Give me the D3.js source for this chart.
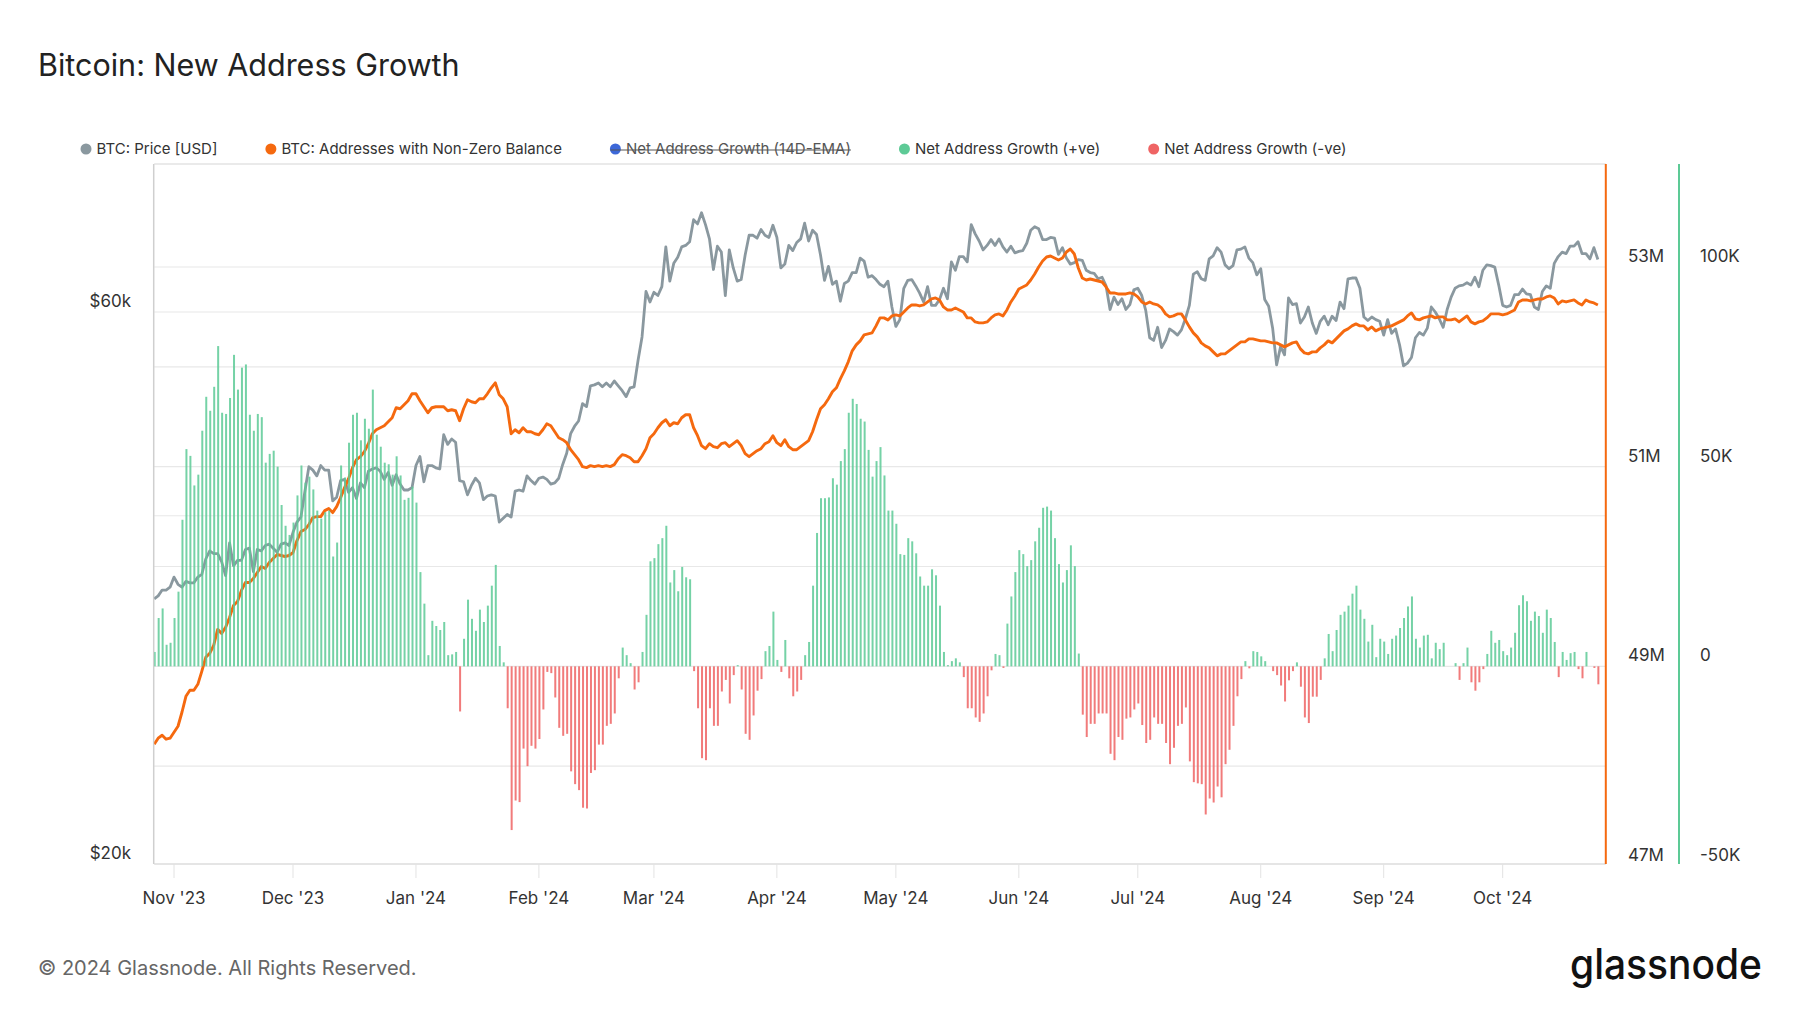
<!DOCTYPE html>
<html><head><meta charset="utf-8">
<script src="https://cdn.jsdelivr.net/npm/d3@7"></script>
<style>
body{margin:0;background:#fff;}
svg{display:block;font-family:Inter,"Noto Sans",sans-serif;}
</style></head>
<body><svg id="c" width="1800" height="1013"></svg>
<script>
// ---------- DATA ----------
const startDate = "2023-10-27"; // one value per day from this date
const endDate = "2024-10-27";

// BTC price, thousands of USD
const priceK = [
 33.9,34.1,34.5,34.5,34.7,
 35.4,34.9,34.7,35.1,35.0,35.0,35.4,35.6,36.7,37.3,37.1,37.1,36.5,35.5,37.9,36.2,36.6,36.6,37.4,37.5,35.8,37.4,37.3,37.7,37.8,37.5,37.2,37.8,37.9,37.7,
 38.7,39.5,39.9,42.0,44.1,43.8,43.3,44.2,43.8,43.8,41.2,41.5,42.9,43.0,41.9,42.3,41.4,42.7,42.3,43.7,43.9,44.0,43.7,43.0,43.6,42.5,43.4,42.6,42.1,42.1,42.3,
 44.2,45.0,42.8,44.2,44.2,44.0,43.9,47.0,46.1,46.6,46.3,42.9,42.8,41.7,42.5,43.1,42.7,41.3,41.6,41.7,41.6,39.5,39.8,40.1,39.9,42.0,42.1,42.0,43.3,42.9,42.6,
 43.1,43.2,43.0,42.6,42.7,43.1,44.3,45.3,47.1,47.8,48.3,50.0,49.7,51.8,51.9,52.1,51.7,52.1,51.7,52.3,51.8,51.3,50.7,51.6,51.7,54.5,57.1,62.5,61.2,
 62.4,62.0,63.1,68.3,63.8,66.1,66.9,68.3,68.5,69.0,72.1,71.5,73.1,71.4,69.4,65.3,68.4,67.6,62.0,67.9,65.5,63.8,64.0,67.2,69.9,69.9,69.5,70.7,69.9,69.6,71.3,
 69.6,65.5,66.0,68.5,67.8,68.9,69.4,71.6,69.1,70.6,70.0,67.2,63.9,65.7,63.4,63.8,61.3,63.5,63.8,64.9,64.9,66.8,66.4,64.3,64.5,64.0,63.4,63.1,63.8,60.6,
 58.3,59.1,62.9,63.9,64.0,63.2,62.3,61.2,63.1,60.8,60.8,61.5,62.9,61.6,66.3,65.2,67.0,67.0,66.3,71.4,70.1,69.1,67.9,68.5,69.3,68.5,69.4,68.3,67.6,68.4,67.5,
 67.7,67.8,68.8,70.6,71.1,70.8,69.3,69.3,69.6,69.5,67.3,68.2,66.8,66.0,66.2,66.6,66.5,65.2,64.9,64.8,64.1,64.3,63.2,60.3,61.8,60.9,61.6,60.3,60.9,62.7,
 62.9,62.0,60.2,57.0,56.7,58.2,55.9,56.7,58.0,57.7,57.3,57.9,59.2,60.8,64.7,65.0,64.1,63.9,66.7,67.1,68.2,67.6,65.9,65.4,65.8,67.9,68.0,68.3,66.8,66.2,64.6,
 65.4,61.5,60.7,58.1,54.0,56.0,55.1,61.7,60.9,61.0,58.7,59.4,60.6,58.7,57.5,58.9,59.5,58.5,59.5,59.0,61.2,60.4,64.1,64.2,64.2,62.9,59.4,59.0,59.4,59.1,58.9,
 57.3,59.1,57.5,58.0,56.2,53.9,54.2,54.8,57.0,57.6,57.3,58.1,60.6,60.0,59.2,58.2,60.3,61.8,62.9,63.2,63.3,63.6,63.3,64.3,63.1,65.2,65.9,65.8,65.6,63.3,
 60.8,60.6,60.8,62.1,62.1,62.8,62.2,62.1,60.6,60.3,62.5,63.2,62.9,66.1,67.0,67.6,67.4,68.4,68.4,69.0,67.4,67.4,66.7,68.2,66.6
];

// Addresses with non-zero balance, millions
const addrM = [
 48.22,48.28,48.31,48.27,48.28,48.34,48.40,48.54,48.70,48.76,
 48.76,48.82,48.95,49.09,49.13,49.21,49.37,49.33,49.39,49.49,
 49.61,49.65,49.76,49.84,49.84,49.88,49.94,50.00,49.98,50.04,
 50.08,50.12,50.11,50.10,50.11,50.14,50.26,50.35,50.37,50.42,
 50.49,50.50,50.50,50.56,50.58,50.54,50.60,50.69,50.79,50.88,
 50.99,51.07,51.10,51.15,51.23,51.33,51.37,51.39,51.41,51.45,
 51.49,51.59,51.58,51.62,51.66,51.73,51.73,51.66,51.60,51.54,
 51.59,51.60,51.60,51.60,51.56,51.57,51.56,51.46,51.58,51.67,
 51.65,51.64,51.68,51.68,51.73,51.79,51.84,51.72,51.68,51.60,
 51.33,51.37,51.34,51.39,51.35,51.35,51.33,51.32,51.37,51.43,
 51.41,51.35,51.29,51.27,51.24,51.17,51.12,51.07,51.00,50.99,
 51.01,51.00,51.01,51.00,51.01,51.00,51.02,51.08,51.12,51.11,
 51.09,51.05,51.05,51.11,51.18,51.29,51.33,51.39,51.44,51.47,
 51.41,51.44,51.43,51.49,51.52,51.52,51.39,51.31,51.21,51.18,
 51.23,51.20,51.19,51.23,51.24,51.20,51.23,51.26,51.21,51.13,
 51.10,51.13,51.16,51.18,51.23,51.25,51.31,51.24,51.21,51.27,
 51.20,51.17,51.17,51.20,51.23,51.26,51.35,51.47,51.58,51.62,
 51.68,51.75,51.79,51.88,51.96,52.05,52.16,52.22,52.26,52.32,
 52.33,52.34,52.41,52.49,52.49,52.47,52.51,52.52,52.51,52.55,
 52.59,52.62,52.62,52.61,52.62,52.65,52.68,52.69,52.67,52.60,
 52.57,52.57,52.59,52.57,52.55,52.49,52.49,52.45,52.44,52.44,
 52.45,52.49,52.52,52.53,52.51,52.57,52.65,52.71,52.78,52.80,
 52.82,52.87,52.93,53.00,53.06,53.10,53.11,53.09,53.07,53.09,
 53.15,53.18,53.13,52.99,52.89,52.87,52.88,52.87,52.86,52.85,
 52.80,52.74,52.74,52.73,52.73,52.73,52.74,52.73,52.70,52.65,
 52.63,52.65,52.63,52.62,52.59,52.53,52.50,52.51,52.53,52.53,
 52.47,52.40,52.34,52.30,52.24,52.21,52.19,52.15,52.11,52.13,
 52.13,52.16,52.19,52.22,52.25,52.25,52.28,52.28,52.27,52.26,
 52.26,52.25,52.24,52.24,52.22,52.20,52.22,52.24,52.25,52.18,
 52.14,52.13,52.15,52.15,52.19,52.22,52.26,52.24,52.28,52.32,
 52.36,52.38,52.41,52.43,52.41,52.41,52.37,52.40,52.36,52.38,
 52.39,52.40,52.41,52.43,52.45,52.47,52.51,52.54,52.48,52.47,
 52.49,52.50,52.51,52.49,52.50,52.50,52.47,52.47,52.48,52.45,
 52.48,52.51,52.45,52.43,52.45,52.46,52.49,52.53,52.53,52.53,
 52.52,52.53,52.55,52.57,52.65,52.67,52.67,52.66,52.67,52.68,
 52.68,52.70,52.71,52.69,52.63,52.66,52.65,52.66,52.67,52.64,
 52.62,52.67,52.65,52.64,52.62
];

// Net address growth, thousands (positive = green, negative = red)
const netK = [
 3.6,12.1,14.5,5.4,5.9,12.1,18.7,36.7,54.4,52.7,
 45.3,48,59,67.5,64,70,80.2,63.5,63.2,67.2,
 78,69.3,74.8,75.6,63,59,63.2,62.4,51,53.2,
 54,50,40.4,35.2,32.9,36,42.8,50.3,46,47.5,
 44.3,39,37,38.6,39,27.5,31,50.3,47.3,56,
 63,63.5,56.6,62,59.5,69.3,58,55,51,50.6,
 48,52.6,47.8,41.7,42.2,45,41,23.6,15.7,2.8,
 11.4,10.1,9.1,11.1,2.8,3.0,3.6,-11.3,6.9,16.7,
 11.9,8.9,14.2,11.1,15.2,20.2,25.4,5.1,1.0,-10.5,
 -41,-33.6,-34,-20.6,-25,-19.9,-20.6,-18.2,-10.8,-1.4,
 -1.7,-7.8,-15.4,-17.4,-16.9,-26.3,-29.5,-31,-35.4,-35.6,
 -26.7,-26,-19.6,-19.6,-14.9,-14.4,-11.8,-3,4.7,2.8,
 0.8,-5.8,-4,3.6,12.9,26.3,27.1,30.6,32.1,35.2,
 21,24.1,18.8,24.9,22.3,21.8,-1.2,-10.5,-23,-23.5,
 -10.5,-14.9,-14.9,-6.3,-3.4,-9.3,-2.2,0.3,-5.8,-16.9,
 -18.4,-12.3,-6.1,-3.2,3.8,5.1,13.7,1.6,-1.4,6.6,
 -3,-7.5,-6.3,-3.4,2.8,6.1,20.2,33.4,42.1,42.1,
 42.3,47.1,45.5,51.4,54.4,63.5,67,65.7,62,61.3,
 54.2,47.5,51.4,54.9,47.8,39,39,35.7,28.1,27.9,
 32.1,31.3,28.3,22.5,20.2,20.2,24.3,22.8,15.2,3.6,
 0.3,1.3,2,1,-2.7,-10.5,-10.5,-12.8,-13.9,-11.8,
 -7.5,-1,3.1,2.8,-0.4,10.7,17.5,23.6,29.1,28.1,
 25.1,26.6,31.3,34.7,39.7,40,39,32.1,25.6,21,
 24.1,30.3,25.1,3.2,-12.1,-17.7,-14.4,-14.4,-11.8,-11.8,
 -11.8,-21.9,-23.5,-17.7,-18.4,-13.1,-12.8,-10.8,-9.3,-14.7,
 -19.2,-18.4,-12.8,-14.4,-14.4,-19.2,-24.5,-20.4,-14.9,-14.4,
 -10.3,-23.8,-29,-29.3,-29.5,-37.1,-33.1,-34.1,-30.1,-32.8,
 -24.5,-20.9,-14.9,-7.5,-3.2,1.3,-0.5,3.8,3.6,2.5,
 1.3,0,-1.2,-2.2,-4.8,-8.8,-3.5,-1.2,1,-5.1,
 -12.8,-14.2,-7.6,-7.6,-3.4,2,8.1,3.8,9.1,12.9,
 13.7,15.2,18.2,20.2,14.2,11.9,6.2,10.4,2.3,6.9,
 6.2,3.1,6.9,7.7,9.6,12.1,15,17.5,6.9,4.7,
 7.7,7.9,2,5.9,4.3,5.9,0,0,0.8,-3.4,
 0.8,4.7,-4,-6.1,-4,-0.7,3.1,8.9,5.9,6.6,
 3.8,2.8,4.7,8.4,15.3,17.8,16.3,11.4,13.7,12.6,
 8.4,14.2,12.1,6.1,-2.7,3.6,1.6,3.3,3.6,-0.7,
 -3,3.6,0,-0.4,-4.5
];

const xTickDates = ["2023-11-01","2023-12-01","2024-01-01","2024-02-01","2024-03-01","2024-04-01","2024-05-01","2024-06-01","2024-07-01","2024-08-01","2024-09-01","2024-10-01"];
const xTickLabels = ["Nov '23","Dec '23","Jan '24","Feb '24","Mar '24","Apr '24","May '24","Jun '24","Jul '24","Aug '24","Sep '24","Oct '24"];
const priceTicks = [20, 60];
const priceTickLabels = ["$20k", "$60k"];
const priceGrid = [40, 60];
const addrTicks = [47, 49, 51, 53];
const addrTickLabels = ["47M", "49M", "51M", "53M"];
const addrGrid = [48, 49, 50, 51, 52, 53];
const netTicks = [-50, 0, 50, 100];
const netTickLabels = ["-50K", "0", "50K", "100K"];
const legendLabels = ["BTC: Price [USD]", "BTC: Addresses with Non-Zero Balance", "Net Address Growth (14D-EMA)", "Net Address Growth (+ve)", "Net Address Growth (-ve)"];
const legendColors = ["#8a989f", "#f5690f", "#3d68d8", "#5dca96", "#ef6464"];
const legendDisabled = [false, false, true, false, false];
const titleText = "Bitcoin: New Address Growth";
const footerText = "\u00a9 2024 Glassnode. All Rights Reserved.";
const logoText = "glassnode";

// ---------- LAYOUT ----------
const L = 154.2, R = 1605.8, T = 164, B = 864;
const parse = d3.utcParse("%Y-%m-%d");
const t0 = parse(startDate);
const dates = priceK.map((_, i) => d3.utcDay.offset(t0, i));

const svg = d3.select("#c");
const x = d3.scaleUtc().domain([t0, parse(endDate)]).range([L, R]);
const yP = d3.scaleLog().domain([20, 60]).range([864, 312]);
const yA = d3.scaleLinear().domain([47, 53]).range([866, 267]);
const yN = d3.scaleLinear().domain([-50, 100]).range([866, 267]);

const grey = "#8a989f", orange = "#f5690f", green = "#5dca96", red = "#ef6464";
const AX = 17;

// title
svg.append("text").attr("x", 38).attr("y", 76).attr("font-size", 30.5).attr("fill", "#222")
  .text(titleText);

// legend
let cx = 86;
const lg = svg.append("g");
legendLabels.forEach((lab, i) => {
  lg.append("circle").attr("cx", cx).attr("cy", 149).attr("r", 5.5).attr("fill", legendColors[i]);
  const t = lg.append("text").attr("x", cx + 10.5).attr("y", 154).attr("font-size", 15)
    .attr("fill", legendDisabled[i] ? "#555" : "#333").text(lab);
  const w = t.node().getComputedTextLength();
  if (legendDisabled[i]) {
    lg.append("line").attr("x1", cx - 5).attr("x2", cx + 10.5 + w).attr("y1", 150).attr("y2", 150)
      .attr("stroke", "#555").attr("stroke-width", 1.2);
  }
  cx = cx + 10.5 + w + 53.5;
});

// plot frame & grid
const grid = svg.append("g");
addrGrid.forEach(v => grid.append("line").attr("x1", L).attr("x2", R).attr("y1", yA(v)).attr("y2", yA(v))
  .attr("stroke", "#e8e8e8").attr("stroke-width", 1.2));
priceGrid.forEach(v => grid.append("line").attr("x1", L).attr("x2", R).attr("y1", yP(v)).attr("y2", yP(v))
  .attr("stroke", "#e8e8e8").attr("stroke-width", 1.2));
grid.append("line").attr("x1", L).attr("x2", R).attr("y1", T).attr("y2", T).attr("stroke", "#e3e3e3").attr("stroke-width", 1.5);
grid.append("line").attr("x1", L).attr("x2", R).attr("y1", B).attr("y2", B).attr("stroke", "#dcdcdc").attr("stroke-width", 1.5);
grid.append("line").attr("x1", L - 0.5).attr("x2", L - 0.5).attr("y1", T).attr("y2", B).attr("stroke", "#cfcfcf").attr("stroke-width", 1.5);

// x axis ticks
xTickDates.forEach((d, i) => {
  const xx = x(parse(d));
  svg.append("line").attr("x1", xx).attr("x2", xx).attr("y1", B).attr("y2", B + 14).attr("stroke", "#e3e3e3");
  svg.append("text").attr("x", xx).attr("y", 904).attr("text-anchor", "middle").attr("font-size", AX)
    .attr("fill", "#333").text(xTickLabels[i]);
});

// left axis labels
priceTicks.forEach((v, i) => svg.append("text").attr("x", 131).attr("y", yP(v) - 5).attr("text-anchor", "end")
  .attr("font-size", AX).attr("fill", "#333").text(priceTickLabels[i]));
// right axes
addrTicks.forEach((v, i) => svg.append("text").attr("x", 1628).attr("y", yA(v) - 5)
  .attr("font-size", AX).attr("fill", "#333").text(addrTickLabels[i]));
netTicks.forEach((v, i) => svg.append("text").attr("x", 1700).attr("y", yN(v) - 5)
  .attr("font-size", AX).attr("fill", "#333").text(netTickLabels[i]));
svg.append("line").attr("x1", R).attr("x2", R).attr("y1", T).attr("y2", B).attr("stroke", orange).attr("stroke-width", 2);
svg.append("line").attr("x1", 1679).attr("x2", 1679).attr("y1", T).attr("y2", B).attr("stroke", green).attr("stroke-width", 2);

// clip
svg.append("clipPath").attr("id", "clip").append("rect").attr("x", L).attr("y", T).attr("width", R - L).attr("height", B - T);
const plot = svg.append("g").attr("clip-path", "url(#clip)");

// lines
const priceLine = d3.line().x((d, i) => x(dates[i])).y(d => yP(d));
plot.append("path").datum(priceK).attr("d", priceLine).attr("fill", "none").attr("stroke", grey)
  .attr("stroke-width", 2.8).attr("stroke-linejoin", "round");
const addrLine = d3.line().x((d, i) => x(dates[i])).y(d => yA(d));
plot.append("path").datum(addrM).attr("d", addrLine).attr("fill", "none").attr("stroke", orange)
  .attr("stroke-width", 2.9).attr("stroke-linejoin", "round");

// bars (drawn over lines, semi-transparent)
plot.append("g").selectAll("rect").data(netK).join("rect")
  .attr("x", (d, i) => x(dates[i]) - 0.5)
  .attr("width", 2)
  .attr("y", d => yN(Math.max(d, 0)))
  .attr("height", d => Math.abs(yN(d) - yN(0)))
  .attr("fill", d => d >= 0 ? green : red)
  .attr("opacity", 0.85);

// footer
svg.append("text").attr("x", 38).attr("y", 975).attr("font-size", 20).attr("fill", "#666").text(footerText);
svg.append("text").attr("x", 1762).attr("y", 979).attr("text-anchor", "end").attr("font-size", 42)
  .attr("font-weight", 500).attr("fill", "#111")
  .attr("textLength", 192).attr("lengthAdjust", "spacingAndGlyphs").text(logoText);
</script>
</body></html>
